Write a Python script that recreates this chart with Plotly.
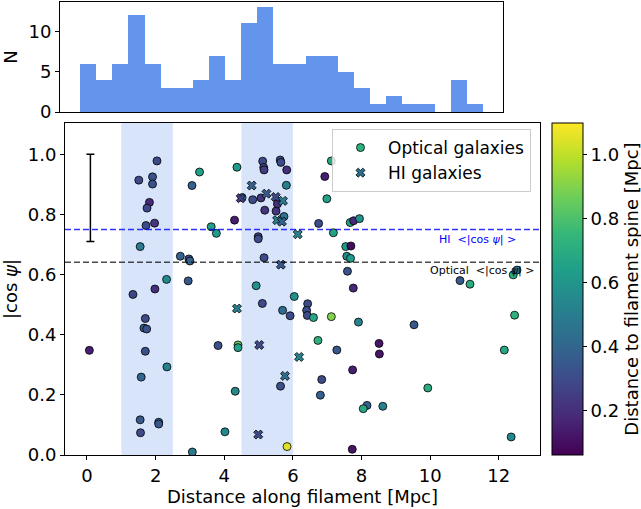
import numpy as np
import plotly.graph_objects as go

# ---------------- data ----------------
hist_counts = [6, 4, 6, 12, 6, 3, 3, 4, 7, 4, 11, 13, 6, 6, 7, 7, 5, 3, 1, 2, 1, 1, 0, 4, 1]
hist_start = 0.07
hist_end = 12.53

opt_dist = [2.04, 1.51, 1.91, 1.91, 1.82, 1.75, 1.72, 1.97, 1.55, 3.28, 3.06, 4.37, 3.62, 3.77, 4.30,
            2.72, 2.97, 3.00, 2.95, 2.32, 1.98, 1.34, 5.12, 5.15, 5.16, 5.63, 5.65, 5.82, 5.81, 4.83,
            5.07, 5.18, 5.51, 5.55, 5.74, 4.52, 4.99, 4.99, 5.16, 4.93, 6.04, 7.12, 6.93, 6.99, 6.75,
            7.67, 7.77, 7.94, 7.18, 7.54, 7.69, 7.57, 7.68, 7.59, 7.76, 10.87, 11.16, 12.42, 12.53,
            5.11, 5.70, 5.92, 1.70, 1.66, 1.74, 0.07, 1.70, 3.82, 4.40, 4.40, 2.33, 1.58, 5.64, 4.32,
            1.55, 2.09, 2.09, 1.56, 4.02, 5.83, 3.07, 6.43, 6.40, 6.42, 6.60, 7.12, 7.91, 9.53, 12.46,
            6.73, 8.51, 7.28, 8.52, 12.16, 7.74, 6.84, 6.80, 9.93, 8.16, 8.05, 8.62, 12.36, 7.73]
opt_cos = [0.978, 0.914, 0.925, 0.901, 0.840, 0.821, 0.763, 0.771, 0.693, 0.941, 0.896, 0.957, 0.759,
           0.737, 0.781, 0.661, 0.652, 0.645, 0.579, 0.584, 0.552, 0.534, 0.977, 0.956, 0.948, 0.981,
           0.973, 0.948, 0.897, 0.849, 0.855, 0.814, 0.811, 0.835, 0.793, 0.856, 0.726, 0.719, 0.656,
           0.563, 0.527, 0.978, 0.926, 0.852, 0.770, 0.773, 0.779, 0.786, 0.739, 0.693, 0.695, 0.661,
           0.654, 0.611, 0.555, 0.580, 0.568, 0.599, 0.615, 0.504, 0.481, 0.463, 0.454, 0.422, 0.419,
           0.348, 0.345, 0.364, 0.366, 0.357, 0.293, 0.259, 0.229, 0.212, 0.117, 0.109, 0.103, 0.074,
           0.077, 0.028, 0.010, 0.503, 0.481, 0.464, 0.457, 0.460, 0.442, 0.433, 0.465, 0.381, 0.371,
           0.349, 0.336, 0.349, 0.283, 0.251, 0.199, 0.223, 0.165, 0.154, 0.162, 0.060, 0.019]
opt_spine = [0.30, 0.30, 0.32, 0.32, 0.18, 0.28, 0.30, 0.22, 0.48, 0.65, 0.38, 0.62, 0.65, 0.62, 0.15,
             0.38, 0.30, 0.38, 0.35, 0.55, 0.20, 0.28, 0.30, 0.28, 0.25, 0.32, 0.30, 0.20, 0.50, 0.30,
             0.22, 0.22, 0.22, 0.20, 0.45, 0.52, 0.30, 0.30, 0.30, 0.58, 0.58, 0.68, 0.15, 0.65, 0.30,
             0.65, 0.18, 0.58, 0.66, 0.62, 0.10, 0.55, 0.62, 0.32, 0.18, 0.35, 0.70, 0.70, 0.45,
             0.30, 0.42, 0.30, 0.30, 0.38, 0.32, 0.15, 0.32, 0.32, 0.85, 0.65, 0.52, 0.40, 0.32, 0.55,
             0.35, 0.40, 0.35, 0.30, 0.55, 1.05, 0.48, 0.30, 0.30, 0.30, 0.68, 0.90, 0.52, 0.35, 0.72,
             0.72, 0.12, 0.35, 0.12, 0.68, 0.15, 0.30, 0.38, 0.70, 0.38, 0.68, 0.52, 0.55, 0.12]

hi_dist = [4.80, 5.23, 5.50, 5.71, 4.48, 5.54, 5.68, 5.65, 6.14, 4.37, 5.02, 6.18, 5.77, 4.99]
hi_cos = [0.896, 0.869, 0.858, 0.845, 0.854, 0.781, 0.776, 0.633, 0.734, 0.487, 0.366, 0.326, 0.263, 0.068]
hi_spine = [0.38, 0.35, 0.30, 0.48, 0.25, 0.50, 0.38, 0.35, 0.52, 0.50, 0.30, 0.52, 0.42, 0.30]

bands = [(1.0, 2.5), (4.5, 6.0)]
mean_hi = 0.75
mean_opt = 0.641
err_x = 0.1
err_lo = 0.71
err_hi = 1.0

cmin, cmax = 0.06, 1.1
FONT = "DejaVu Sans"
FS = 18

# ---------------- figure ----------------
W, H = 641, 509
fig = go.Figure()

edges = np.linspace(hist_start, hist_end, len(hist_counts) + 1)
centers = 0.5 * (edges[:-1] + edges[1:])
bw = edges[1] - edges[0]
fig.add_trace(go.Bar(x=centers, y=hist_counts, width=bw, marker=dict(color="#6495ED", line=dict(width=0)),
                     xaxis="x2", yaxis="y2", showlegend=False, hoverinfo="skip"))

mk_common = dict(colorscale="Viridis", cmin=cmin, cmax=cmax, line=dict(color="black", width=0.8))

fig.add_trace(go.Scatter(x=opt_dist, y=opt_cos, mode="markers", showlegend=False,
                         marker=dict(size=8, color=opt_spine, symbol="circle", **mk_common,
                                     colorbar=dict(thickness=31, len=332 / H, lenmode="fraction",
                                                   x=552 / W, xanchor="left", y=(H - 455) / H, yanchor="bottom",
                                                   xpad=0, ypad=0,
                                                   outlinecolor="black", outlinewidth=1,
                                                   tickvals=[0.2, 0.4, 0.6, 0.8, 1.0], ticktext=["0.2", "0.4", "0.6", "0.8", "1.0"],
                                                   ticks="outside", ticklen=4, tickcolor="black",
                                                   tickfont=dict(family=FONT, size=FS, color="black"),
                                                   title=dict(text="Distance to filament spine [Mpc]", side="right",
                                                              font=dict(family=FONT, size=FS, color="black")))),
                         xaxis="x", yaxis="y"))
fig.add_trace(go.Scatter(x=hi_dist, y=hi_cos, mode="markers", showlegend=False,
                         marker=dict(size=8, color=hi_spine, symbol="x", **mk_common),
                         xaxis="x", yaxis="y"))

# legend entries
fig.add_trace(go.Scatter(x=[None], y=[None], mode="markers", name="Optical galaxies",
                         marker=dict(size=8, color="#2db27d", symbol="circle", line=dict(color="black", width=0.8))))
fig.add_trace(go.Scatter(x=[None], y=[None], mode="markers", name="HI galaxies",
                         marker=dict(size=8, color="#2c6e8e", symbol="x", line=dict(color="black", width=0.8))))

# error bar
fig.add_trace(go.Scatter(x=[err_x], y=[(err_lo + err_hi) / 2], mode="markers", showlegend=False,
                         marker=dict(size=1, color="rgba(0,0,0,0)"),
                         error_y=dict(type="data", array=[(err_hi - err_lo) / 2], color="black", thickness=1.5, width=4),
                         hoverinfo="skip"))

shapes = []
for a, b in bands:
    shapes.append(dict(type="rect", xref="x", yref="paper", x0=a, x1=b, y0=(H - 455) / H, y1=(H - 123) / H,
                       fillcolor="rgba(100,149,237,0.25)", line=dict(width=0), layer="below"))
shapes.append(dict(type="line", xref="paper", yref="y", x0=65 / W, x1=540 / W, y0=mean_hi, y1=mean_hi,
                   line=dict(color="rgba(0,0,255,0.8)", width=1.5, dash="6px,3px")))
shapes.append(dict(type="line", xref="paper", yref="y", x0=65 / W, x1=540 / W, y0=mean_opt, y1=mean_opt,
                   line=dict(color="rgba(0,0,0,0.7)", width=1.5, dash="6px,3px")))

annotations = [
    dict(x=12.57, y=0.716, xref="x", yref="y", text="HI  &lt;|cos <i>ψ</i>| &gt;", showarrow=False,
         xanchor="right", yanchor="middle", font=dict(family=FONT, size=11, color="blue")),
    dict(x=13.07, y=0.613, xref="x", yref="y", text="Optical  &lt;|cos <i>ψ</i>| &gt;", showarrow=False,
         xanchor="right", yanchor="middle", font=dict(family=FONT, size=11, color="black")),
]

ax_common = dict(showline=True, mirror=True, linecolor="black", linewidth=1, ticks="outside", ticklen=4,
                 tickcolor="black", showgrid=False, zeroline=False, automargin=False,
                 tickfont=dict(family=FONT, size=FS, color="black"))

fig.update_layout(
    width=W, height=H, margin=dict(l=0, r=0, t=0, b=0, pad=0, autoexpand=False),
    paper_bgcolor="white", plot_bgcolor="white",
    font=dict(family=FONT, size=FS, color="black"),
    bargap=0,
    shapes=shapes, annotations=annotations,
    xaxis=dict(domain=[65 / W, 540 / W], range=[-0.64, 13.2], tickvals=[0, 2, 4, 6, 8, 10, 12],
               title=dict(text="Distance along filament [Mpc]", standoff=5, font=dict(family=FONT, size=FS)),
               anchor="y", **ax_common),
    yaxis=dict(domain=[(H - 455) / H, (H - 123) / H], range=[0, 1.104], tickvals=[0, 0.2, 0.4, 0.6, 0.8, 1.0],
               ticktext=["0.0", "0.2", "0.4", "0.6", "0.8", "1.0"],
               title=dict(text="|cos <i>ψ</i>|", standoff=6, font=dict(family=FONT, size=FS)),
               anchor="x", **ax_common),
    xaxis2=dict(domain=[60 / W, 503 / W], range=[-0.553, 13.153], showticklabels=False,
                anchor="y2", **{**ax_common, "ticks": ""}),
    yaxis2=dict(domain=[(H - 112) / H, (H - 2) / H], range=[0, 13.65], tickvals=[0, 5, 10],
                title=dict(text="N", standoff=8, font=dict(family=FONT, size=FS)),
                anchor="x2", **ax_common),
    legend=dict(x=531 / W, xanchor="right", y=(H - 129) / H, yanchor="top", itemwidth=45,
                bgcolor="rgba(255,255,255,0.8)", bordercolor="#cccccc", borderwidth=1,
                font=dict(family=FONT, size=17, color="black")),
)

fig.write_html("out.html", config={"displayModeBar": False},
               post_script="document.body.style.margin='0';document.body.style.overflow='hidden';")
